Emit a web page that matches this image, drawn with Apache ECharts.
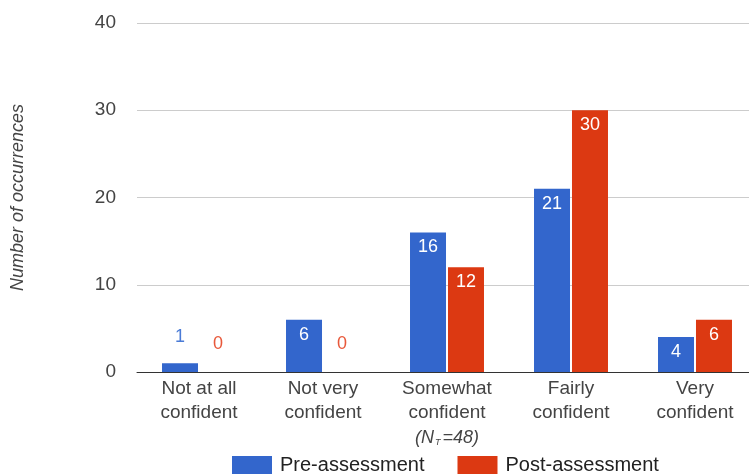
<!DOCTYPE html>
<html>
<head>
<meta charset="utf-8">
<script src="https://cdn.jsdelivr.net/npm/echarts@6/dist/echarts.min.js"></script>
<style>
  html, body { margin: 0; padding: 0; background: #fff; overflow: hidden; }
  /* the plot area runs a few pixels past the right edge of the window */
  #chart { width: 757px; height: 474px; }
</style>
</head>
<body>
<div id="chart"></div>
<script>
// Confidence levels reported before and after the assessment
const categories = [
  'Not at all\nconfident',
  'Not very\nconfident',
  'Somewhat\nconfident',
  'Fairly\nconfident',
  'Very\nconfident'
];
const preAssessment = [1, 6, 16, 21, 4];
const postAssessment = [0, 0, 12, 30, 6];
const yTicks = [0, 10, 20, 30, 40];
const seriesNames = ['Pre-assessment', 'Post-assessment'];
const sampleNote = { index: 2, text: '=48)' };

const FONT = '"Liberation Sans", Arial, Helvetica, sans-serif';
const BLUE = '#3366cc';
const RED = '#dc3912';

// Short bars get their value above the bar, tall bars inside near the top
function labelled(values, outsideColor) {
  return values.map(v => ({
    value: v,
    label: v >= 3
      ? { show: true, position: 'insideTop', distance: 6, color: '#fff' }
      : { show: true, position: 'top', distance: v === 0 ? 19 : 17, color: outsideColor }
  }));
}

const chart = echarts.init(document.getElementById('chart'), null, { renderer: 'canvas' });

chart.setOption({
  animation: false,
  backgroundColor: '#fff',
  textStyle: { fontFamily: FONT },
  grid: { left: 137, top: 23, right: 0, bottom: 102, containLabel: false },
  legend: {
    left: 232,
    top: 455,
    padding: 0,
    itemWidth: 40,
    itemHeight: 18,
    itemGap: 33,
    icon: 'rect',
    textStyle: { fontFamily: FONT, fontSize: 20, color: '#222', padding: [0, 0, 0, 3] },
    data: seriesNames
  },
  xAxis: {
    type: 'category',
    data: categories,
    axisLine: { show: true, lineStyle: { color: '#333', width: 1 } },
    axisTick: { show: false },
    axisLabel: {
      interval: 0,
      margin: 5,
      fontFamily: FONT,
      fontSize: 19,
      lineHeight: 24,
      color: '#444',
      formatter: (val, idx) => {
        if (idx === sampleNote.index) {
          return val + '\n{i|(N}{s|T}{i|' + sampleNote.text + '}';
        }
        return val;
      },
      rich: {
        i: { fontFamily: FONT, fontStyle: 'italic', fontSize: 18, lineHeight: 26, color: '#444' },
        s: { fontFamily: FONT, fontStyle: 'italic', fontSize: 9, lineHeight: 26, color: '#444', padding: [8, 2, 0, 1] }
      }
    }
  },
  yAxis: {
    type: 'value',
    min: yTicks[0],
    max: yTicks[yTicks.length - 1],
    interval: yTicks[1] - yTicks[0],
    name: 'Number of occurrences',
    nameLocation: 'middle',
    nameGap: 110,
    nameTextStyle: { fontFamily: FONT, fontSize: 18, fontStyle: 'italic', color: '#444' },
    axisLine: { show: false },
    axisTick: { show: false },
    splitLine: { lineStyle: { color: '#cccccc', width: 1 } },
    axisLabel: { margin: 21, fontFamily: FONT, fontSize: 19, color: '#444' }
  },
  series: [
    {
      name: seriesNames[0],
      type: 'bar',
      barWidth: 36,
      barGap: '5.5%',
      itemStyle: { color: BLUE },
      label: { fontFamily: FONT, fontSize: 18 },
      data: labelled(preAssessment, '#4a7bd6')
    },
    {
      name: seriesNames[1],
      type: 'bar',
      barWidth: 36,
      barGap: '5.5%',
      itemStyle: { color: RED },
      label: { fontFamily: FONT, fontSize: 18 },
      data: labelled(postAssessment, '#e8583a')
    }
  ]
});
</script>
</body>
</html>
